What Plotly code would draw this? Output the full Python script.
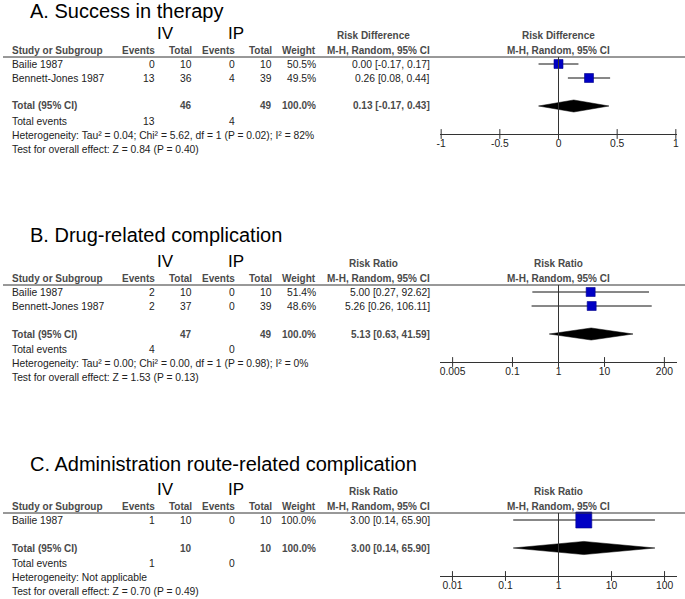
import plotly.graph_objects as go

W, H = 685, 599

# ---------------- data ----------------
titles = ["A. Success in therapy", "B. Drug-related complication",
          "C. Administration route-related complication"]
measures = ["Risk Difference", "Risk Ratio", "Risk Ratio"]

# Panel A: Success in therapy (Risk Difference)
studies_A = ["Bailie 1987", "Bennett-Jones 1987"]
iv_events_A = [0, 13]
iv_total_A = [10, 36]
ip_events_A = [0, 4]
ip_total_A = [10, 39]
weight_A = [50.5, 49.5]
est_A = [0.00, 0.26]
lo_A = [-0.17, 0.08]
hi_A = [0.17, 0.44]
total_A = dict(iv_total=46, ip_total=49, weight=100.0, est=0.13, lo=-0.17, hi=0.43,
               iv_events=13, ip_events=4)
het_A = "Heterogeneity: Tau\u00b2 = 0.04; Chi\u00b2 = 5.62, df = 1 (P = 0.02); I\u00b2 = 82%"
test_A = "Test for overall effect: Z = 0.84 (P = 0.40)"
ticks_A = [-1, -0.5, 0, 0.5, 1]
ticklabels_A = ["-1", "-0.5", "0", "0.5", "1"]

# Panel B: Drug-related complication (Risk Ratio)
studies_B = ["Bailie 1987", "Bennett-Jones 1987"]
iv_events_B = [2, 2]
iv_total_B = [10, 37]
ip_events_B = [0, 0]
ip_total_B = [10, 39]
weight_B = [51.4, 48.6]
est_B = [5.00, 5.26]
lo_B = [0.27, 0.26]
hi_B = [92.62, 106.11]
total_B = dict(iv_total=47, ip_total=49, weight=100.0, est=5.13, lo=0.63, hi=41.59,
               iv_events=4, ip_events=0)
het_B = "Heterogeneity: Tau\u00b2 = 0.00; Chi\u00b2 = 0.00, df = 1 (P = 0.98); I\u00b2 = 0%"
test_B = "Test for overall effect: Z = 1.53 (P = 0.13)"
ticks_B = [0.005, 0.1, 1, 10, 200]
ticklabels_B = ["0.005", "0.1", "1", "10", "200"]

# Panel C: Administration route-related complication (Risk Ratio)
studies_C = ["Bailie 1987"]
iv_events_C = [1]
iv_total_C = [10]
ip_events_C = [0]
ip_total_C = [10]
weight_C = [100.0]
est_C = [3.00]
lo_C = [0.14]
hi_C = [65.90]
total_C = dict(iv_total=10, ip_total=10, weight=100.0, est=3.00, lo=0.14, hi=65.90,
               iv_events=1, ip_events=0)
het_C = "Heterogeneity: Not applicable"
test_C = "Test for overall effect: Z = 0.70 (P = 0.49)"
ticks_C = [0.01, 0.1, 1, 10, 100]
ticklabels_C = ["0.01", "0.1", "1", "10", "100"]

col_headers = ["Study or Subgroup", "Events", "Total", "Events", "Total", "Weight",
               "M-H, Random, 95% CI"]

# ---------------- layout ----------------
panels = [
    dict(studies=studies_A, ive=iv_events_A, ivt=iv_total_A, ipe=ip_events_A, ipt=ip_total_A,
         w=weight_A, est=est_A, lo=lo_A, hi=hi_A, tot=total_A, het=het_A, test=test_A,
         ticks=ticks_A, tlab=ticklabels_A, log=False, rng=[-1.01, 1.01], null=0,
         L=57, title_y=11, msize=[9, 9], dh=0.43),
    dict(studies=studies_B, ive=iv_events_B, ivt=iv_total_B, ipe=ip_events_B, ipt=ip_total_B,
         w=weight_B, est=est_B, lo=lo_B, hi=hi_B, tot=total_B, het=het_B, test=test_B,
         ticks=ticks_B, tlab=ticklabels_B, log=True, rng=[-2.575, 2.575], null=1,
         L=285, title_y=235, msize=[9, 9], dh=0.43),
    dict(studies=studies_C, ive=iv_events_C, ivt=iv_total_C, ipe=ip_events_C, ipt=ip_total_C,
         w=weight_C, est=est_C, lo=lo_C, hi=hi_C, tot=total_C, het=het_C, test=test_C,
         ticks=ticks_C, tlab=ticklabels_C, log=True, rng=[-2.235, 2.235], null=1,
         L=513, title_y=464, msize=[16], dh=0.47),
]

RH = 14  # row height px
FONT = "Liberation Sans, Arial, sans-serif"
TXT = "#222222"
HDR = "#4a4a4a"
FS = 10.3
FSB = 10

col_x = [10, 157, 194, 237, 274, 318, 432]
col_anchor = ["left", "right", "right", "right", "right", "right", "right"]

PX0, PX1 = 440, 677  # forest plot area


def px(x):
    return x / W


def py(y):
    return 1 - y / H


fig = go.Figure()
ann = []
shapes = []


def text(x, y, s, anchor="left", size=FS, bold=False, color=TXT):
    ann.append(dict(x=px(x), y=py(y), xref="paper", yref="paper",
                    text=f"<b>{s}</b>" if bold else s,
                    showarrow=False, xanchor=anchor, yanchor="middle",
                    font=dict(family=FONT, size=size, color=color)))


def fmt_ci(e, l, h):
    return f"{e:.2f} [{l:.2f}, {h:.2f}]"


for k, p in enumerate(panels):
    L = p["L"]
    n = len(p["studies"])
    ax = "" if k == 0 else str(k + 1)
    text(28, p["title_y"], titles[k], size=20, color="#000000")
    text(165, L - 23.5, "IV", anchor="center", size=17, color="#000000")
    text(236, L - 23.5, "IP", anchor="center", size=17, color="#000000")
    text(373, L - 21.5, measures[k], anchor="center", size=FSB, bold=True, color=HDR)
    text(558, L - 21.5, measures[k], anchor="center", size=FSB, bold=True, color=HDR)
    text(558, L - 6.5, col_headers[-1], anchor="center", size=FSB, bold=True, color=HDR)
    for c, h in enumerate(col_headers):
        text(col_x[c], L - 6.5, h, anchor=col_anchor[c], size=FSB, bold=True, color=HDR)
    shapes.append(dict(type="line", xref="paper", yref="paper", x0=px(3), x1=px(685),
                       y0=py(L), y1=py(L), line=dict(color="#333333", width=1)))
    for i in range(n):
        y = L + (i + 0.5) * RH
        vals = [p["studies"][i], str(p["ive"][i]), str(p["ivt"][i]), str(p["ipe"][i]),
                str(p["ipt"][i]), f"{p['w'][i]:.1f}%", fmt_ci(p["est"][i], p["lo"][i], p["hi"][i])]
        for c, v in enumerate(vals):
            text(col_x[c], y, v, anchor=col_anchor[c])
    t = p["tot"]
    yt = L + (n + 1.5) * RH
    tv = ["Total (95% CI)", "", str(t["iv_total"]), "", str(t["ip_total"]),
          f"{t['weight']:.1f}%", fmt_ci(t["est"], t["lo"], t["hi"])]
    for c, v in enumerate(tv):
        if v:
            text(col_x[c], yt, v, anchor=col_anchor[c], size=FSB, bold=True, color=HDR)
    text(10, yt + 15.5, "Total events")
    text(col_x[1], yt + 15.5, str(t["iv_events"]), anchor="right")
    text(col_x[3], yt + 15.5, str(t["ip_events"]), anchor="right")
    text(10, yt + 29.5, p["het"])
    text(10, yt + 43, p["test"])

    # forest subplot
    ytop = L
    ybot = L + (n + 3.5) * RH
    xa = dict(domain=[px(PX0), px(PX1)], anchor="y" + ax, range=p["rng"],
              type="log" if p["log"] else "linear", showgrid=False, zeroline=False,
              showline=True, linecolor="#333333", linewidth=1, ticks="",
              tickvals=p["ticks"], ticktext=p["tlab"], automargin=False,
              tickfont=dict(family=FONT, size=FS, color=TXT), fixedrange=True)
    ya = dict(domain=[py(ybot), py(ytop)], anchor="x" + ax, range=[n + 3, -0.5],
              visible=False, fixedrange=True)
    fig.layout["xaxis" + ax] = xa
    fig.layout["yaxis" + ax] = ya
    shapes.append(dict(type="line", xref="x" + ax, yref="y" + ax, x0=p["null"], x1=p["null"],
                       y0=-0.5, y1=n + 3, line=dict(color="#333333", width=1)))
    fig.add_trace(go.Scatter(x=p["ticks"], y=[n + 3] * len(p["ticks"]), mode="markers",
                             xaxis="x" + ax, yaxis="y" + ax, cliponaxis=False, hoverinfo="skip",
                             marker=dict(symbol="line-ns", size=7,
                                         line=dict(color="#333333", width=1))))
    for i in range(n):
        fig.add_trace(go.Scatter(x=[p["lo"][i], p["hi"][i]], y=[i, i], mode="lines",
                                 xaxis="x" + ax, yaxis="y" + ax, cliponaxis=False,
                                 line=dict(color="#111111", width=1), hoverinfo="skip"))
    fig.add_trace(go.Scatter(x=p["est"], y=list(range(n)), mode="markers",
                             xaxis="x" + ax, yaxis="y" + ax, cliponaxis=False,
                             marker=dict(symbol="square", size=p["msize"], color="#0000c4",
                                         opacity=1, line=dict(color="#00008a", width=0.6))))
    r = n + 1
    d = p["dh"]
    fig.add_trace(go.Scatter(x=[t["lo"], t["est"], t["hi"], t["est"], t["lo"]],
                             y=[r, r - d, r, r + d, r], mode="lines", fill="toself",
                             fillcolor="#000000", line=dict(color="#000000", width=0.5),
                             xaxis="x" + ax, yaxis="y" + ax, hoverinfo="skip"))

fig.update_layout(width=W, height=H, margin=dict(l=0, r=0, t=0, b=0, autoexpand=False),
                  paper_bgcolor="white", plot_bgcolor="white", showlegend=False,
                  annotations=ann, shapes=shapes)
fig.write_html("out.html", config={"displayModeBar": False},
               post_script="document.body.style.margin='0px';")
